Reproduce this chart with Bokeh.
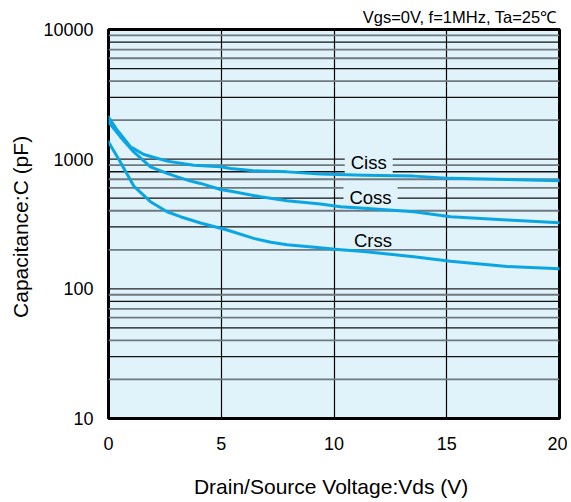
from bokeh.plotting import figure
from bokeh.models import Span, Label, FixedTicker, NumeralTickFormatter
from bokeh.embed import file_html
from bokeh.resources import INLINE

# ---- data ----
vds_ciss = [0, 0.39, 0.98, 1.57, 2.6, 3.78, 4.97, 5.41, 6.44, 7.92, 9.40, 11.32, 13.54, 15.17, 17.68, 20]
ciss = [2115, 1672, 1244, 1087, 966, 899, 875, 848, 813, 798, 767, 753, 740, 711, 698, 681]

vds_coss = [0, 0.53, 1.12, 1.86, 2.6, 3.05, 3.64, 4.08, 4.97, 5.56, 6.74, 7.92, 9.40, 10.29, 11.32, 13.54, 15.17, 17.68, 20]
coss = [1936, 1485, 1138, 873, 776, 731, 677, 650, 583, 560, 513, 478, 451, 430, 418, 393, 360, 340, 324]

vds_crss = [0, 0.53, 1.12, 1.86, 2.6, 3.19, 4.08, 5.26, 6.44, 7.2, 7.92, 9.26, 10.29, 11.32, 13.54, 15.17, 17.68, 20]
crss = [1358, 948, 620, 470, 393, 360, 322, 284, 245, 229, 219, 208, 200, 194, 177, 163, 148.5, 143]

series_names = ["Ciss", "Coss", "Crss"]
x_ticks = [0, 5, 10, 15, 20]
y_ticks = [10, 100, 1000, 10000]
y_tick_labels = ["10", "100", "1000", "10000"]
decades = [10, 100, 1000]
multipliers = [1, 2, 3, 4, 5, 6, 7, 8, 9]

# ---- styles ----
FONT = "Liberation Sans"
BG = "#e0f2fa"
CURVE = "#0aa6e4"
GRAY = "#6f7980"
grid_style = {1: ("#222222", 1.4), 2: (GRAY, 1.8), 3: ("#111111", 1.3), 4: (GRAY, 1.8),
              5: ("#111111", 1.3), 6: (GRAY, 1.8), 7: (GRAY, 1.8), 8: ("#111111", 1.3),
              9: (GRAY, 1.8)}

p = figure(width=567, height=500, x_range=(0, 20), y_range=(10, 10000),
           y_axis_type="log", output_backend="svg", toolbar_location=None,
           min_border_left=108, min_border_right=8, min_border_top=29,
           min_border_bottom=81)
p.background_fill_color = BG
p.border_fill_color = "white"
p.outline_line_color = "black"
p.outline_line_width = 3

# conditions note as right-aligned title
p.title.text = "Vgs=0V, f=1MHz, Ta=25\u2103"
p.title.align = "right"
p.title.text_font = FONT
p.title.text_font_size = "16.5px"
p.title.text_font_style = "normal"
p.title.text_color = "black"
p.title.standoff = 7
p.title.offset = 3

# axes
p.xaxis.ticker = FixedTicker(ticks=x_ticks)
p.yaxis.ticker = FixedTicker(ticks=y_ticks)
p.yaxis.formatter = NumeralTickFormatter(format="0")
p.yaxis.major_label_overrides = {t: lab for t, lab in zip(y_ticks, y_tick_labels)}
for ax in (p.xaxis, p.yaxis):
    ax.axis_line_color = None
    ax.major_tick_line_color = None
    ax.minor_tick_line_color = None
    ax.major_tick_out = 0
    ax.major_tick_in = 0
    ax.major_label_text_font = FONT
    ax.major_label_text_font_size = "18px"
    ax.major_label_text_color = "black"
    ax.axis_label_text_font = FONT
    ax.axis_label_text_font_size = "21px"
    ax.axis_label_text_font_style = "normal"
    ax.axis_label_text_color = "black"
p.xaxis.axis_label = "Drain/Source Voltage:Vds  (V)"
p.yaxis.axis_label = "Capacitance:C  (pF)"
p.xaxis.major_label_standoff = 18
p.xaxis.axis_label_standoff = 22
p.yaxis.major_label_standoff = 15
p.yaxis.axis_label_standoff = 8

# grid
p.xgrid.grid_line_color = "black"
p.xgrid.grid_line_width = 1.2
p.ygrid.grid_line_color = None
for d in decades:
    for k in multipliers:
        v = k * d
        if v == y_ticks[0]:
            continue
        col, w = grid_style[k]
        p.add_layout(Span(location=v, dimension="width", line_color=col,
                          line_width=w, level="underlay"))

# curve labels (centre positions in data space), under the curves
label_pos = [(11.54, 944, True), (11.62, 503, True), (11.73, 236, False)]
for name, (lx, ly, boxed) in zip(series_names, label_pos):
    lab = Label(x=lx, y=ly, text=name, text_align="center", text_baseline="middle",
                text_font=FONT, text_font_size="18.5px", text_color="black",
                level="underlay")
    if boxed:
        lab.background_fill_color = BG
        lab.padding = dict(left=6, right=6, top=1, bottom=1)
    p.add_layout(lab)

# curves
for xs, ys in ((vds_ciss, ciss), (vds_coss, coss), (vds_crss, crss)):
    p.line(xs, ys, line_color=CURVE, line_width=3, line_join="round", line_cap="round")

open("out.html", "w").write(file_html(p, INLINE))
